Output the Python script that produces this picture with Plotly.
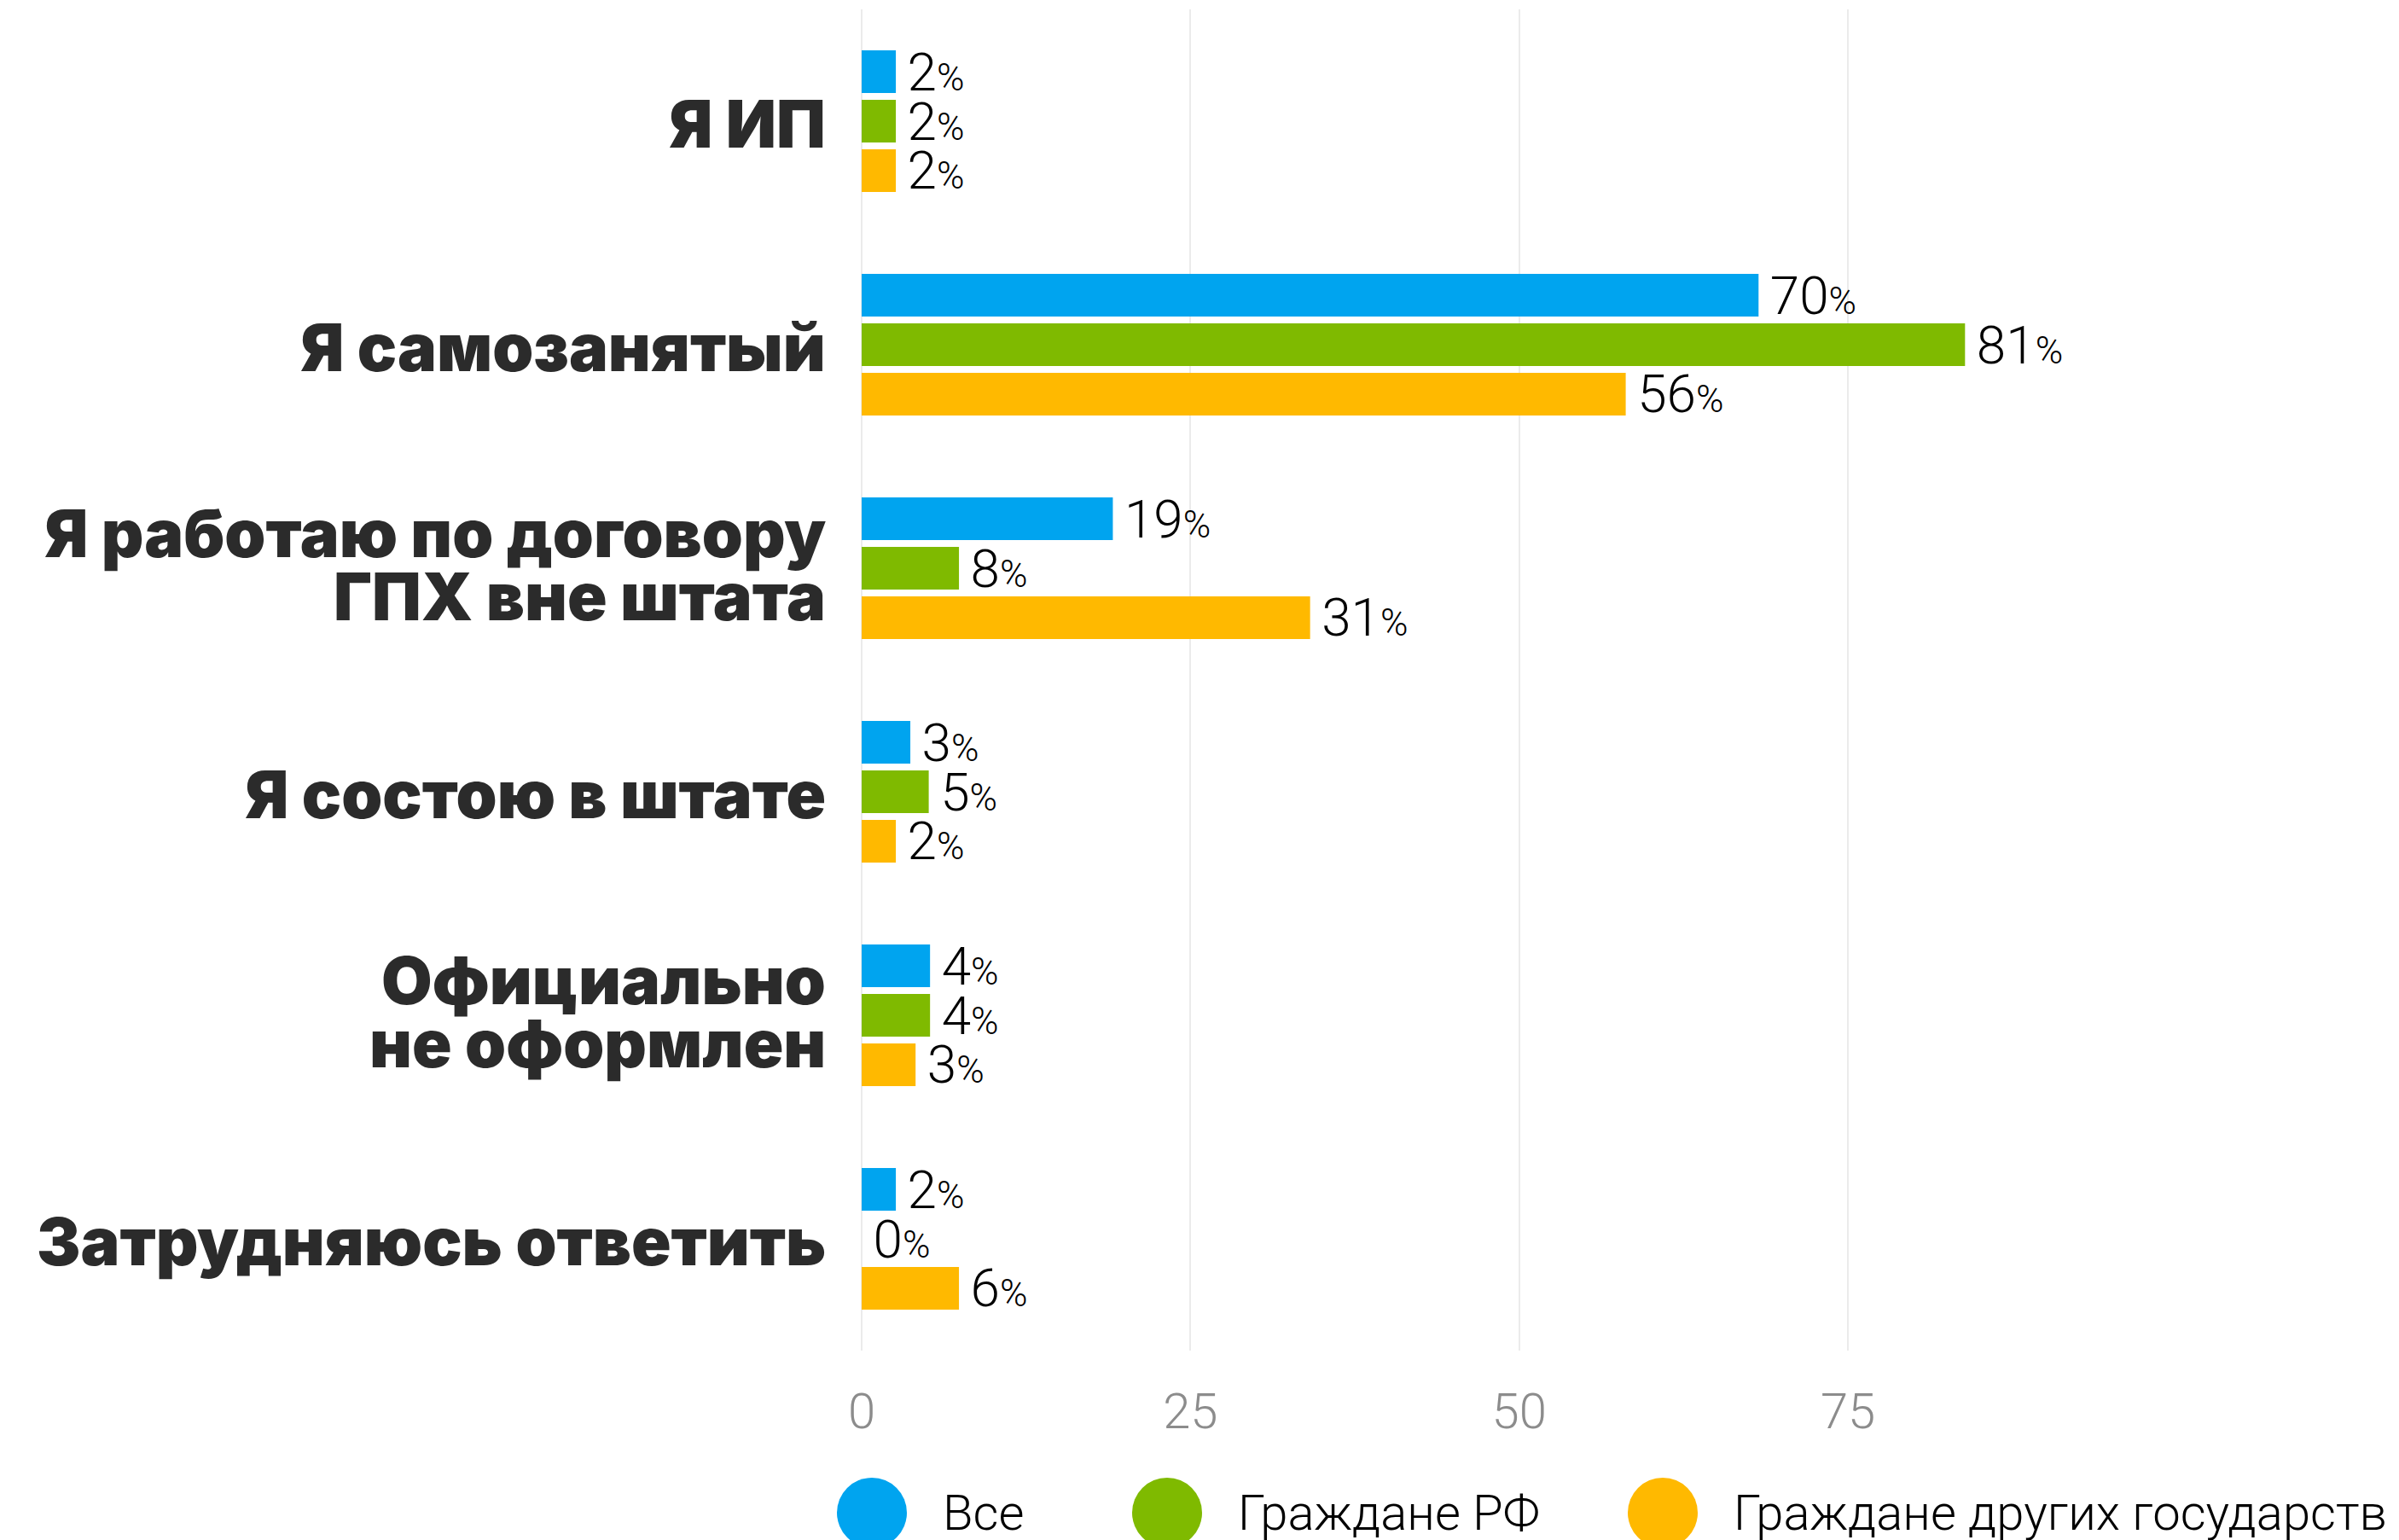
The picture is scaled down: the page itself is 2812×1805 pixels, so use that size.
import plotly.graph_objects as go

# categories, top to bottom ("\n" marks a line break in the label)
categories = [
    "Я ИП",
    "Я самозанятый",
    "Я работаю по договору\nГПХ вне штата",
    "Я состою в штате",
    "Официально\nне оформлен",
    "Затрудняюсь ответить",
]
series_names = ["Все", "Граждане РФ", "Граждане других государств"]
colors = ["#00a4ef", "#7fba00", "#ffb900"]

# bar lengths as drawn in the picture
vals_all = [2.6, 68.2, 19.1, 3.7, 5.2, 2.6]
vals_rf = [2.6, 83.9, 7.4, 5.1, 5.2, 0]
vals_other = [2.6, 58.1, 34.1, 2.6, 4.1, 7.4]

# printed percentages
lbl_all = [2, 70, 19, 3, 4, 2]
lbl_rf = [2, 81, 8, 5, 4, 0]
lbl_other = [2, 56, 31, 2, 3, 6]

tick_vals = [0, 25, 50, 75]

OFF = 8  # default body margin of the page
W, H = 2812 - OFF, 1805 - OFF
ML, MR, MT, MB = 1010 - OFF, 0, 11 - OFF, 222
plot_w = W - ML - MR
plot_h = H - MT - MB

fig = go.Figure()
for name, col, vals, lbls in zip(series_names, colors,
                                 [vals_all, vals_rf, vals_other],
                                 [lbl_all, lbl_rf, lbl_other]):
    fig.add_trace(go.Bar(
        name=name, y=categories, x=vals, orientation="h",
        marker=dict(color=col, line_width=0),
        text=[f"\u2006{v}<span style='font-size:44px'>%</span>" for v in lbls],
        textposition="outside", constraintext="none", cliponaxis=False,
        textfont=dict(family="Roboto", size=62, color="#000000", weight=300),
        showlegend=False, hoverinfo="skip",
    ))

# category labels, drawn line by line to keep the tight leading
line_pitch = 74
for cat in categories:
    lines = cat.split("\n")
    n = len(lines)
    for i, ln in enumerate(lines):
        fig.add_annotation(
            x=0, xref="paper", y=cat, yref="y", xanchor="right", yanchor="middle",
            xshift=-40, yshift=(n - 1) / 2 * line_pitch - i * line_pitch + (4 if n > 1 else -3),
            text=ln, showarrow=False,
            font=dict(family="Inter", size=77, color="#2b2b2b", weight=900),
        )

# legend: big circles + labels below the axis
leg_cx = [1022, 1368, 1949]
leg_cy = 1773
r = 41
for name, col, cx in zip(series_names, colors, leg_cx):
    xa = (cx - OFF - ML) / plot_w
    ya = (H - MB - (leg_cy - OFF)) / plot_h
    fig.add_shape(type="circle", xref="paper", yref="paper",
                  xsizemode="pixel", ysizemode="pixel",
                  xanchor=xa, yanchor=ya, x0=-r, x1=r, y0=-r, y1=r,
                  fillcolor=col, line_width=0)
    fig.add_annotation(x=xa, y=ya, xref="paper", yref="paper",
                       xanchor="left", yanchor="middle", xshift=r + 40,
                       text=name, showarrow=False,
                       font=dict(family="Roboto", size=58, color="#000000", weight=300))

fig.update_layout(
    width=W, height=H,
    margin=dict(l=ML, r=MR, t=MT, b=MB),
    barmode="group", bargap=0.336, bargroupgap=0.14,
    plot_bgcolor="white", paper_bgcolor="white",
    xaxis=dict(range=[0, 116.9], tickvals=tick_vals, showgrid=True,
               gridcolor="#ebebeb", gridwidth=2, zeroline=True,
               zerolinecolor="#ebebeb", zerolinewidth=2, showline=False,
               ticklabelstandoff=32,
               tickfont=dict(family="Roboto", size=58, color="#8c8c8c", weight=300)),
    yaxis=dict(categoryorder="array", categoryarray=categories,
               autorange="reversed", showticklabels=False, showgrid=False,
               zeroline=False, showline=False),
)

fig.write_html("out.html")
